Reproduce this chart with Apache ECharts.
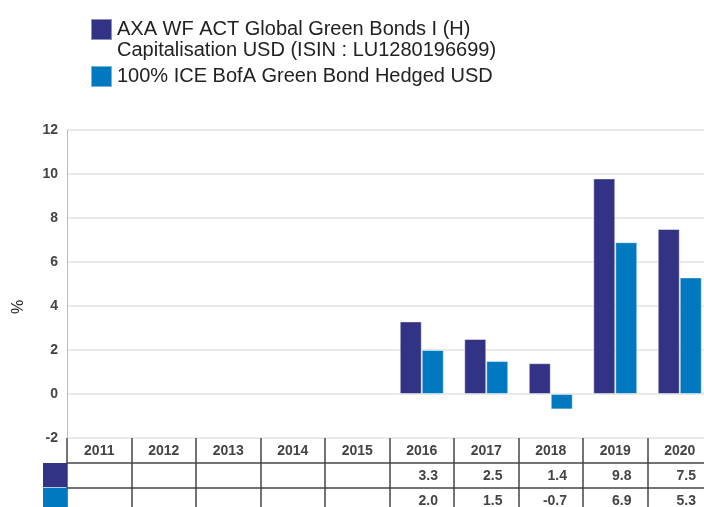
<!DOCTYPE html>
<html>
<head>
<meta charset="utf-8">
<script src="https://cdn.jsdelivr.net/npm/echarts@6/dist/echarts.min.js"></script>
<style>
  html, body { margin: 0; padding: 0; background: #fff; }
  #chart { width: 704px; height: 507px; }
</style>
</head>
<body>
<div id="chart"></div>
<script>
// data
const years = ['2011', '2012', '2013', '2014', '2015', '2016', '2017', '2018', '2019', '2020']
const fundValues = [null, null, null, null, null, 3.3, 2.5, 1.4, 9.8, 7.5]
const benchValues = [null, null, null, null, null, 2.0, 1.5, -0.7, 6.9, 5.3]
const yMin = -2
const yMax = 12
const yStep = 2
const fundName = 'AXA WF ACT Global Green Bonds I (H)\nCapitalisation USD (ISIN : LU1280196699)'
const benchName = '100% ICE BofA Green Bond Hedged USD'
const tableRows = ['year', 'fund', 'bench']

const FONT = '"Liberation Sans", Arial, sans-serif'
const fundColor = '#333385'
const benchColor = '#0079c1'

// table cells (years row + value rows)
const cells = []
years.forEach((y, i) => {
  cells.push({ x: i, row: 0, text: y, align: 'center' })
  if (fundValues[i] != null) cells.push({ x: i, row: 1, text: fundValues[i].toFixed(1), align: 'right' })
  if (benchValues[i] != null) cells.push({ x: i, row: 2, text: benchValues[i].toFixed(1), align: 'right' })
})

const chart = echarts.init(document.getElementById('chart'))

const option = {
  animation: false,
  textStyle: { fontFamily: FONT },
  legend: [{
    data: [fundName],
    left: 90,
    top: -2,
    padding: 0,
    itemWidth: 21,
    itemHeight: 21,
    icon: 'rect',
    selectedMode: false,
    // blank first line so the icon sits beside the first text line
    formatter: name => '\n' + name,
    textStyle: { fontSize: 20, color: '#222', lineHeight: 21 }
  }, {
    data: [benchName],
    left: 90,
    top: 65,
    padding: 0,
    itemWidth: 21,
    itemHeight: 21,
    icon: 'rect',
    selectedMode: false,
    textStyle: { fontSize: 20, color: '#222' }
  }],
  grid: [
    { left: 67, top: 130, width: 645, height: 308, outerBoundsMode: 'none' },
    { left: 67, top: 438, width: 645, height: 74, outerBoundsMode: 'none' }
  ],
  xAxis: [{
    type: 'category',
    gridIndex: 0,
    data: years,
    axisLine: { show: false },
    axisTick: { show: false },
    axisLabel: { show: false }
  }, {
    type: 'category',
    gridIndex: 1,
    data: years,
    axisLine: { show: false },
    axisTick: { show: false },
    axisLabel: { show: false },
    splitLine: { show: true, interval: 0, lineStyle: { color: '#444', width: 1.5 } }
  }],
  yAxis: [{
    type: 'value',
    gridIndex: 0,
    min: yMin,
    max: yMax,
    interval: yStep,
    name: '%',
    nameLocation: 'middle',
    nameRotate: 90,
    nameGap: 40,
    nameTextStyle: { fontSize: 16, color: '#222', padding: [0, 46, 0, 0] },
    axisLine: { show: true, lineStyle: { color: '#bbb', width: 1 } },
    axisTick: { show: false },
    axisLabel: { margin: 9, fontSize: 14, fontWeight: 'bold', color: '#444' },
    splitLine: { lineStyle: { color: '#e3e3e3', width: 1.5 } }
  }, {
    type: 'category',
    gridIndex: 1,
    data: tableRows,
    inverse: true,
    axisLine: { show: false },
    axisTick: { show: false },
    axisLabel: {
      margin: 0,
      interval: 0,
      hideOverlap: false,
      formatter: v => v === 'fund' ? '{f| }' : v === 'bench' ? '{b| }' : '',
      rich: {
        f: { width: 24, height: 24, backgroundColor: fundColor },
        b: { width: 24, height: 24, backgroundColor: benchColor }
      }
    },
    splitLine: { show: true, interval: 0, showMinLine: false, lineStyle: { color: '#444', width: 1.5 } }
  }],
  series: [{
    name: fundName,
    type: 'bar',
    data: fundValues,
    barWidth: 22,
    barGap: '0%',
    itemStyle: { color: fundColor, borderColor: 'rgba(255,255,255,0.45)', borderWidth: 1 },
    silent: true
  }, {
    name: benchName,
    type: 'bar',
    data: benchValues,
    barWidth: 22,
    barGap: '0%',
    itemStyle: { color: benchColor, borderColor: 'rgba(255,255,255,0.45)', borderWidth: 1 },
    silent: true
  }, {
    type: 'custom',
    xAxisIndex: 1,
    yAxisIndex: 1,
    silent: true,
    data: cells.map(c => [c.x, c.row]),
    renderItem: (params, api) => {
      const c = cells[params.dataIndex]
      const p = api.coord([api.value(0), api.value(1)])
      const w = api.size([1, 1])[0]
      return {
        type: 'text',
        style: {
          text: c.text,
          x: c.align === 'center' ? p[0] : p[0] + w / 2 - 16,
          y: p[1] + 1,
          align: c.align,
          verticalAlign: 'middle',
          fill: '#444',
          font: 'bold 14px ' + FONT
        }
      }
    }
  }]
}

chart.setOption(option)
</script>
</body>
</html>
